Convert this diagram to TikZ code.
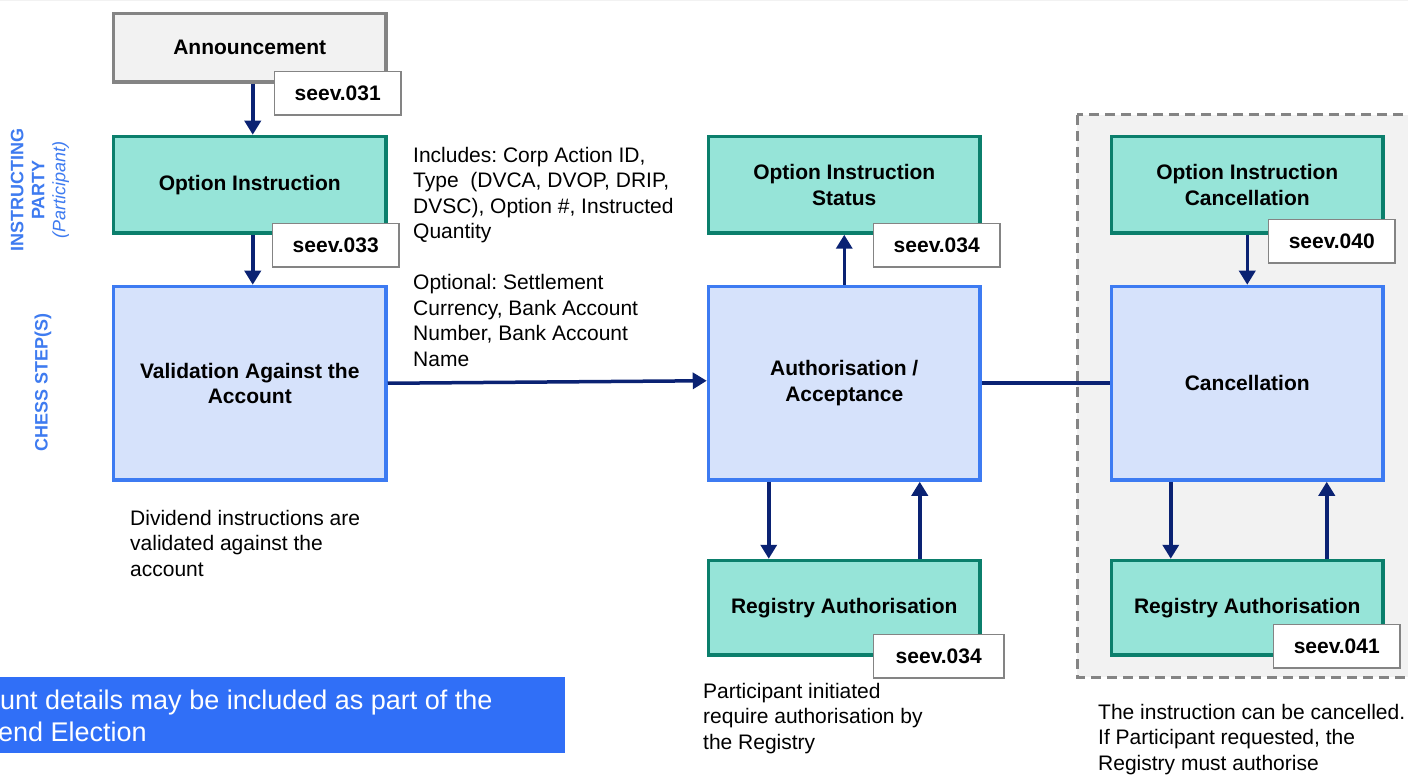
\documentclass[tikz,border=0pt]{standalone}
\usepackage{fontspec}
\setmainfont{Liberation Sans}
\usetikzlibrary{arrows.meta}
\definecolor{tealfill}{HTML}{96E4D8}
\definecolor{tealline}{HTML}{0B7F6C}
\definecolor{bluefill}{HTML}{D6E2FB}
\definecolor{blueline}{HTML}{3D7BF2}
\definecolor{navy}{HTML}{0A2273}
\definecolor{grayfill}{HTML}{F2F2F2}
\definecolor{grayline}{HTML}{848484}
\definecolor{bannerblue}{HTML}{306FF7}
\definecolor{labelblue}{HTML}{3E7BF0}
\frenchspacing
\begin{document}
\begin{tikzpicture}[x=1pt,y=-1pt,
  box/.style={draw, line width=3.5pt, anchor=north west, minimum width=272.5pt, align=center,
    font=\fontsize{21}{25.5}\selectfont\bfseries, inner sep=0pt},
  graybox/.style={box, fill=grayfill, draw=grayline},
  tealbox/.style={box, fill=tealfill, draw=tealline},
  bluebox/.style={box, fill=bluefill, draw=blueline},
  msgbox/.style={draw=grayline, fill=white, line width=1.5pt, anchor=north west, minimum width=126.5pt,
    minimum height=43.5pt, inner sep=0pt, font=\fontsize{21}{25.5}\selectfont\bfseries},
  note/.style={anchor=north west, align=left, inner sep=0pt, font=\fontsize{21}{25.5}\selectfont},
  lanelabel/.style={rotate=90, align=center, text=labelblue, inner sep=0pt, font=\fontsize{18}{21}\selectfont\bfseries},
  arr/.style={draw=navy, line width=3.5pt, -{Triangle[width=16pt,length=14pt]}},
  link/.style={draw=navy, line width=3.5pt}
]
\useasboundingbox (0,0) rectangle (1408,775);
\fill[grayfill] (0,0) rectangle (1408,1.2);

% dashed cancellation region
\draw[grayline, fill=grayfill, line width=3pt, dash pattern=on 10pt off 6pt] (1077,115) rectangle (1430,677);

% boxes
\node[graybox, minimum height=68.5pt] (ann) at (111.75,11.75) {Announcement};
\node[tealbox, minimum height=96.5pt] (oi) at (111.75,134.75) {Option Instruction};
\node[bluebox, minimum height=193.5pt] (val) at (111.75,284.75) {Validation Against the\\Account};

\node[tealbox, minimum width=271.5pt, minimum height=96.5pt] (ois) at (706.75,134.75) {Option Instruction\\Status};
\node[bluebox, minimum width=271.5pt, minimum height=193.5pt] (auth) at (706.75,284.75) {Authorisation /\\Acceptance};
\node[tealbox, minimum width=271.5pt, minimum height=94.5pt] (reg1) at (706.75,558.75) {Registry Authorisation};

\node[tealbox, minimum width=271.5pt, minimum height=96.5pt] (oic) at (1109.75,134.75) {Option Instruction\\Cancellation};
\node[bluebox, minimum width=271.5pt, minimum height=193.5pt] (canc) at (1109.75,284.75) {Cancellation};
\node[tealbox, minimum width=271.5pt, minimum height=94.5pt] (reg2) at (1109.75,558.75) {Registry Authorisation};

% connectors
\draw[arr] ([xshift=3pt]ann.south) -- ([xshift=3pt]oi.north);
\draw[arr] ([xshift=3pt]oi.south) -- ([xshift=3pt]val.north);
\draw[arr] (val.east) -- ([yshift=2.5pt]auth.west);
\draw[arr] (auth.north) -- (ois.south);
\draw[arr] ([xshift=62pt]auth.south west) -- ([xshift=62pt]reg1.north west);
\draw[arr] ([xshift=-62pt]reg1.north east) -- ([xshift=-62pt]auth.south east);
\draw[link] (auth.east) -- (canc.west);
\draw[arr] (oic.south) -- (canc.north);
\draw[arr] ([xshift=61pt]canc.south west) -- ([xshift=61pt]reg2.north west);
\draw[arr] ([xshift=-58pt]reg2.north east) -- ([xshift=-58pt]canc.south east);

% message labels
\node[msgbox] (m031) at (273.75,70.75) {seev.031};
\node[msgbox] (m033) at (271.75,222.75) {seev.033};
\node[msgbox] (m034a) at (872.75,222.75) {seev.034};
\node[msgbox, minimum width=130.5pt] (m034b) at (872.75,633.75) {seev.034};
\node[msgbox] (m040) at (1267.75,218.75) {seev.040};
\node[msgbox] (m041) at (1272.75,623.75) {seev.041};

% notes
\node[note] (inc) at (413,147) {Includes: Corp Action ID,\\Type\ \ (DVCA, DVOP, DRIP,\\DVSC), Option \#, Instructed\\Quantity\\[25.5pt]Optional: Settlement\\Currency, Bank Account\\Number, Bank Account\\Name};
\node[note] (divnote) at (130,510) {Dividend instructions are\\validated against the\\account};
\node[note] (partnote) at (703,683) {Participant initiated\\require authorisation by\\the Registry};
\node[note] (cancnote) at (1098,704) {The instruction can be cancelled.\\If Participant requested, the\\Registry must authorise};

% lane labels
\node[lanelabel] (ip) at (40,190) {INSTRUCTING\\PARTY\\{\mdseries\itshape (Participant)}};
\node[lanelabel] (cs) at (43,382) {CHESS STEP(S)};

% banner
\node[fill=bannerblue, anchor=north west, minimum width=565pt, minimum height=76pt, inner sep=0pt] (ban) at (0,677) {};
\node[note, text=white, font=\fontsize{27}{32}\selectfont] (bantext) at (0,690) {unt details may be included as part of the\\\hspace*{-2pt}end Election};
\end{tikzpicture}
\end{document}
